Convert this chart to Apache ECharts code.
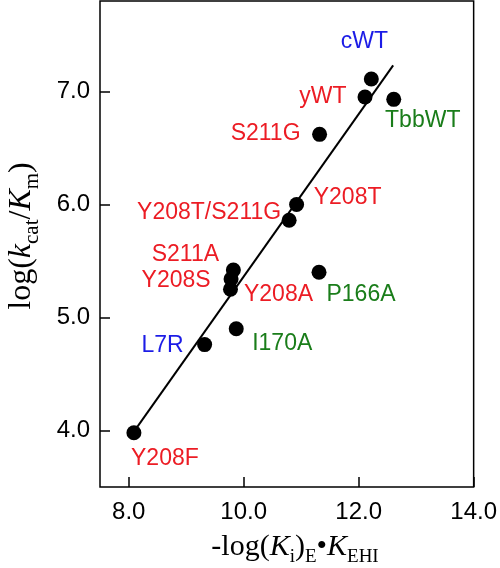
<!DOCTYPE html>
<html>
<head>
<meta charset="utf-8">
<script src="https://cdn.jsdelivr.net/npm/echarts@6/dist/echarts.min.js"></script>
<style>html,body{margin:0;padding:0;background:#fff;}#c{width:500px;height:568px;}</style>
</head>
<body>
<div id="c"></div>
<script>
// ---- data ----
var pointNames = ['cWT','yWT','TbbWT','S211G','Y208T','Y208T/S211G','S211A','Y208S','Y208A','P166A','I170A','L7R','Y208F'];
var xValues    = [12.22, 12.11, 12.61, 11.32, 10.92, 10.79, 9.82, 9.78, 9.77, 11.31, 9.87, 9.32, 8.09];
var yValues    = [7.11, 6.95, 6.93, 6.62, 6.00, 5.86, 5.42, 5.34, 5.25, 5.40, 4.90, 4.76, 3.98];
var groups     = ['c','y','t','y','y','y','y','y','y','t','t','c','y'];
var fitLineX   = [8.09, 12.60];
var fitLineY   = [3.99, 7.23];
var xTicks     = [8, 10, 12, 14];
var yTicks     = [4, 5, 6, 7];

// ---- styling ----
var groupColors = { y: '#ec1c24', c: '#1c1ce6', t: '#1a7d1a' };
var labelOffsets = {
  'cWT': [-7, -37], 'yWT': [-42, 0], 'TbbWT': [29, 21], 'S211G': [-54, -1],
  'Y208T': [51, -7], 'Y208T/S211G': [-80, -8], 'S211A': [-48, -15],
  'Y208S': [-55, 2], 'Y208A': [48, 5], 'P166A': [42, 22], 'I170A': [46, 15],
  'L7R': [-42, 1], 'Y208F': [31, 26]
};

var scatterData = pointNames.map(function (n, i) {
  return {
    name: n,
    value: [xValues[i], yValues[i]],
    label: {
      show: true, position: 'inside', formatter: n,
      offset: labelOffsets[n], color: groupColors[groups[i]],
      fontFamily: 'Liberation Sans, Arial, sans-serif', fontSize: 23
    }
  };
});
var lineData = fitLineX.map(function (x, i) { return [x, fitLineY[i]]; });

var serif = 'Liberation Serif, Times New Roman, serif';
function richSet(big, small, lh, slh) {
  return {
    n: { fontFamily: serif, fontSize: big, lineHeight: lh, verticalAlign: 'middle', color: '#000' },
    it: { fontFamily: serif, fontSize: big, fontStyle: 'italic', lineHeight: lh, verticalAlign: 'middle', color: '#000' },
    s: { fontFamily: serif, fontSize: small, lineHeight: slh, verticalAlign: 'bottom', color: '#000' }
  };
}

var chart = echarts.init(document.getElementById('c'), null, { renderer: 'canvas' });
chart.setOption({
  animation: false,
  backgroundColor: '#fff',
  grid: { left: 100, right: 25, top: 1, bottom: 81, show: true, borderColor: '#000', borderWidth: 1.5, backgroundColor: 'transparent' },
  xAxis: {
    type: 'value', min: 7.5, max: 14,
    axisLine: { show: false },
    splitLine: { show: false },
    axisTick: { show: true, inside: true, length: 10, customValues: xTicks, lineStyle: { color: '#000', width: 1.5 } },
    axisLabel: { customValues: xTicks, margin: 13, color: '#000', fontSize: 24, fontFamily: 'Liberation Sans, Arial, sans-serif',
      formatter: function (v) { return v.toFixed(1); } }
  },
  yAxis: {
    type: 'value', min: 3.5, max: 7.8,
    axisLine: { show: false },
    splitLine: { show: false },
    axisTick: { show: true, inside: true, length: 10, customValues: yTicks, lineStyle: { color: '#000', width: 1.5 } },
    axisLabel: { customValues: yTicks, margin: 10, color: '#000', fontSize: 24, fontFamily: 'Liberation Sans, Arial, sans-serif',
      formatter: function (v) { return v.toFixed(1); } }
  },
  graphic: [
    {
      type: 'text', x: 295, y: 547,
      style: {
        text: '{n|-log(}{it|K}{s|i}{n|)}{s|E}{n|•}{it|K}{s|EHI}',
        rich: richSet(30, 19, 40, 22), align: 'center', verticalAlign: 'middle'
      }
    },
    {
      type: 'text', x: 22, y: 236, rotation: Math.PI / 2,
      style: {
        text: '{n|log(}{it|k}{s|cat}{n|/}{it|K}{s|m}{n|)}',
        rich: richSet(32, 21, 42, 23), align: 'center', verticalAlign: 'middle'
      }
    }
  ],
  series: [
    {
      type: 'line', data: lineData, symbol: 'none', z: 1,
      lineStyle: { color: '#000', width: 2 }, silent: true
    },
    {
      type: 'scatter', data: scatterData, symbol: 'circle', symbolSize: 15, z: 2,
      itemStyle: { color: '#000', opacity: 1 }
    }
  ]
});
</script>
</body>
</html>
